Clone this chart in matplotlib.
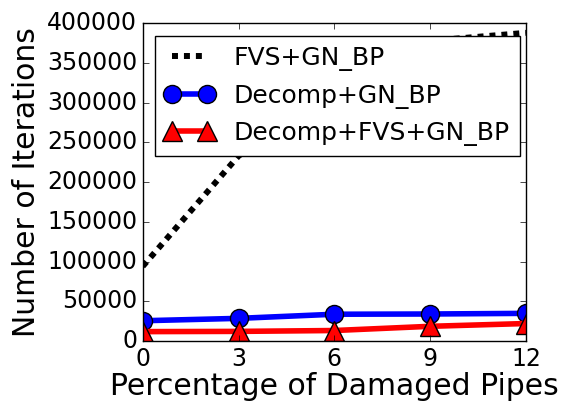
import matplotlib
matplotlib.use("Agg")
import matplotlib.pyplot as plt

plt.style.use("classic")

pct_damaged = [0, 3, 6, 9, 12]
fvs_gn_bp = [94000, 233000, 318000, 378000, 388000]
decomp_gn_bp = [25500, 28500, 33700, 34000, 34800]
decomp_fvs_gn_bp = [11800, 12100, 13200, 18500, 22000]

fig = plt.figure(figsize=(5.63, 4.08), dpi=100)
ax = fig.add_axes([142.7 / 563, 1 - 341 / 408, 383.3 / 563, 317.7 / 408])

ax.plot(pct_damaged, fvs_gn_bp, color="black", linestyle=(0, (4.3, 4.3)),
        linewidth=4.3, dash_capstyle="butt", label="FVS+GN_BP")
ax.plot(pct_damaged, decomp_gn_bp, color="blue", linewidth=4, marker="o",
        markersize=13, markeredgecolor="black", markeredgewidth=1,
        label="Decomp+GN_BP")
ax.plot(pct_damaged, decomp_fvs_gn_bp, color="red", linewidth=4, marker="^",
        markersize=14, markeredgecolor="black", markeredgewidth=1,
        label="Decomp+FVS+GN_BP")

ax.set_xlim(0, 12)
ax.set_ylim(0, 400000)
ax.set_xticks(pct_damaged)
ax.set_yticks(range(0, 400001, 50000))
ax.tick_params(labelsize=17)
ax.ticklabel_format(style="plain", axis="y", useOffset=False)
ax.set_xlabel("Percentage of Damaged Pipes", fontsize=21.5, labelpad=1)
ax.set_ylabel("Number of Iterations", fontsize=21.5, labelpad=4)

leg = ax.legend(loc="upper left", bbox_to_anchor=(0.032, 0.96), fontsize=18,
                numpoints=2, handlelength=2, borderaxespad=0,
                labelspacing=0.5, borderpad=0.4, handletextpad=0.75)
leg.get_frame().set_linewidth(1)

fig.savefig("out.png", dpi=100)
